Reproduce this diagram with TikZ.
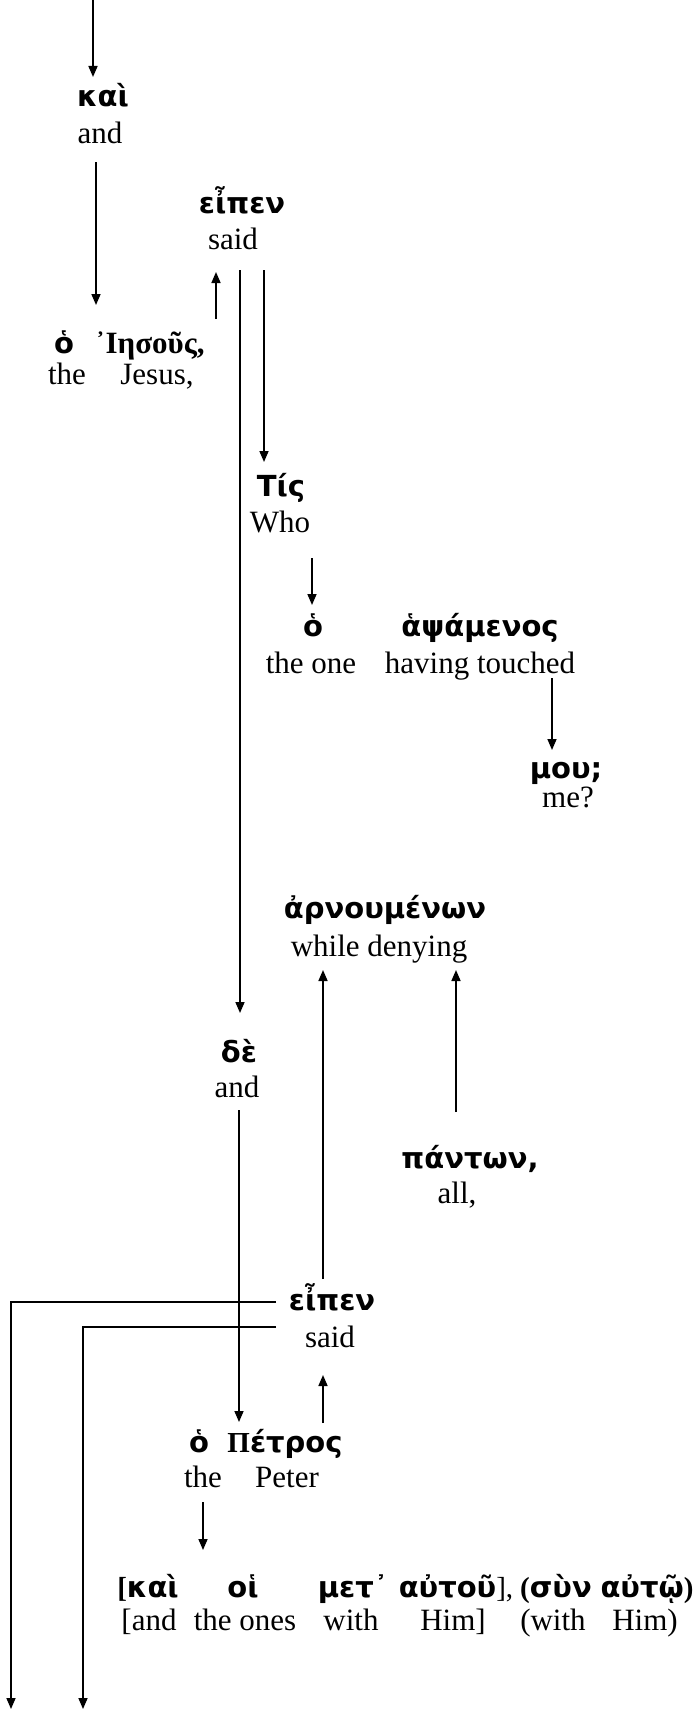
\documentclass[tikz,border=0pt]{standalone}
\usepackage{fontspec}
\setmainfont{Liberation Serif}
\newfontfamily\gkfont{DejaVu Sans}
\usetikzlibrary{arrows.meta,calc}
\tikzset{
  gk/.style={font=\gkfont\bfseries\fontsize{29}{31}\selectfont, inner sep=0pt, anchor=base},
  gs/.style={font=\bfseries\fontsize{31}{33}\selectfont, inner sep=0pt, anchor=base},
  en/.style={font=\fontsize{31}{33}\selectfont, inner sep=0pt, anchor=base},
  ln/.style={line width=1.6pt},
  arr/.style={line width=1.6pt, -{Triangle[length=11pt,width=9pt]}}
}
\begin{document}
\begin{tikzpicture}[x=1pt,y=-1pt]
\useasboundingbox (0,0) rectangle (695,1710);
% free ends
\coordinate (top0) at (93,0);
\coordinate (bot1) at (11,1709);
\coordinate (bot2) at (83,1709);
% nodes
\node[gk] (g1) at (103,106) {καὶ};
\node[en] (e1) at (100,143) {and};
\node[gk] (g2) at (242,213) {εἶπεν};
\node[en] (e2) at (233,249) {said};
\node[gk] (g3) at (64,353) {ὁ};
\node[en] (e3) at (67,384) {the};
\node[gs] (g4) at (150,353) {᾿Ιησοῦς,};
\node[en] (e4) at (157,384) {Jesus,};
\node[gk] (g5) at (281,496) {Τίς};
\node[en] (e5) at (280,532) {Who};
\node[gk] (g6) at (313,636) {ὁ};
\node[en] (e6) at (311,673) {the one};
\node[gk] (g7) at (480,636) {ἁψάμενος};
\node[en] (e7) at (480,673) {having touched};
\node[gk] (g8) at (566,778) {μου;};
\node[en] (e8) at (568,807) {me?};
\node[gk] (g9) at (385,918) {ἀρνουμένων};
\node[en] (e9) at (379,956) {while denying};
\node[gk] (g10) at (239,1062) {δὲ};
\node[en] (e10) at (237,1097) {and};
\node[gk] (g11) at (470,1168) {πάντων,};
\node[en] (e11) at (457,1203) {all,};
\node[gk] (g12) at (332,1310) {εἶπεν};
\node[en] (e12) at (330,1347) {said};
\node[gk] (g13) at (199,1452) {ὁ};
\node[en] (e13) at (203,1487) {the};
\node[gk] (g14) at (285,1452) {{\rmfamily Π}έτρος};
\node[en] (e14) at (287,1487) {Peter};
\node[gk] (g15) at (148,1597) {{\rmfamily [}καὶ};
\node[en] (e15) at (149,1630) {[and};
\node[gk] (g16) at (243,1597) {οἱ};
\node[en] (e16) at (245,1630) {the ones};
\node[gk] (g17) at (353,1597) {μετ᾽};
\node[en] (e17) at (351,1630) {with};
\node[gk] (g18) at (456,1597) {αὐτοῦ{\rmfamily\mdseries ],}};
\node[en] (e18) at (453,1630) {Him]};
\node[gk] (g19) at (556,1597) {{\rmfamily (}σὺν};
\node[en] (e19) at (553,1630) {(with};
\node[gk] (g20) at (647,1597) {αὐτῷ{\rmfamily )}};
\node[en] (e20) at (645,1630) {Him)};
% connectors
\draw[arr] (top0) -- ($(g1.base)+(-10,-29)$);
\draw[arr] ($(e1.base)+(-4,19)$) -- ($(g4.base)+(-54,-48)$);
\draw[arr] ($(g4.base)+(66,-34)$) -- ($(e2.base)+(-17,23)$);
\draw[arr] ($(e2.base)+(7,21)$) -- ($(g10.base)+(1,-49)$);
\draw[arr] ($(e2.base)+(31,21)$) -- ($(g5.base)+(-17,-34)$);
\draw[arr] ($(e5.base)+(32,26)$) -- ($(g6.base)+(-1,-31)$);
\draw[arr] ($(e7.base)+(72,5)$) -- ($(g8.base)+(-14,-28)$);
\draw[arr] ($(g12.base)+(-9,-31)$) -- ($(e9.base)+(-56,14)$);
\draw[arr] ($(g11.base)+(-14,-56)$) -- ($(e9.base)+(77,14)$);
\draw[arr] ($(e10.base)+(2,13)$) -- ($(g14.base)+(-46,-30)$);
\draw[arr] ($(g14.base)+(38,-29)$) -- ($(e12.base)+(-7,28)$);
\draw[arr] ($(g12.base)+(-56,-8)$) -| (bot1);
\draw[arr] ($(e12.base)+(-54,-20)$) -| (bot2);
\draw[arr] ($(e13.base)+(0,15)$) -- ($(g16.base)+(-40,-47)$);
\end{tikzpicture}
\end{document}
